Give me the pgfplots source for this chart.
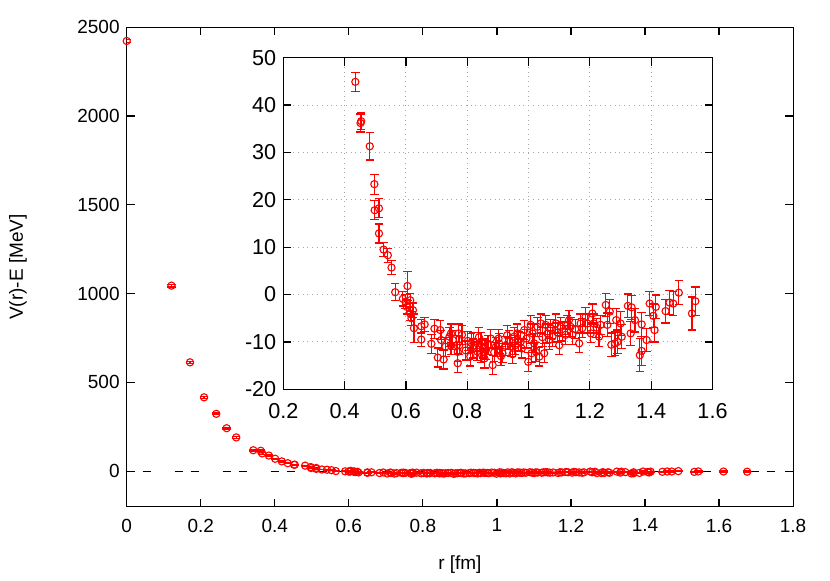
\documentclass[border=0pt]{standalone}
\usepackage{fontspec}
\setmainfont{Liberation Sans}
\usepackage{pgfplots}
\pgfplotsset{compat=1.18}
\usepackage{pgfplotstable}

% r [fm], V(r)-E [MeV], error
\pgfplotstableread{
x y e
0.000 2423 8
0.121 1045 8
0.171 613 6
0.209 416 6
0.242 323 5
0.270 242 5
0.296 190 5
0.342 118 4
0.362 115 4
0.366 100 4
0.384 88 3
0.401 70 3
0.419 55 3
0.435 44.9 2.0
0.452 36.2 1.9
0.454 36.6 1.8
0.482 31.3 2.9
0.497 23.3 2.1
0.498 17.8 2.0
0.512 18.2 2.0
0.512 12.9 2.0
0.527 9.5 1.5
0.541 8.3 1.5
0.553 5.7 1.5
0.565 0.5 1.8
0.590 -0.9 1.5
0.599 -1.5 1.5
0.603 -2.6 1.5
0.605 1.8 3.0
0.614 -1.2 1.5
0.614 -4.0 1.5
0.618 -5.0 1.5
0.623 -3.3 1.5
0.626 -7.1 3.0
0.650 -6.7 1.5
0.650 -9.5 1.5
0.661 -6.3 1.5
0.683 -10.4 2.0
0.693 -7.2 2.0
0.704 -13.3 2.0
0.712 -7.5 2.0
0.715 -9.6 2.0
0.723 -13.7 2.0
0.729 -11.0 2.0
0.742 -8.9 2.0
0.747 -8.2 2.0
0.747 -10.7 2.0
0.753 -9.6 2.0
0.766 -10.7 2.0
0.769 -14.5 2.0
0.769 -12.1 2.0
0.772 -8.2 2.0
0.774 -10.7 2.0
0.783 -8.5 2.0
0.795 -11.8 2.0
0.802 -9.8 2.0
0.810 -13.1 2.0
0.813 -10.2 2.0
0.818 -11.4 2.0
0.820 -10.0 2.0
0.832 -12.0 2.0
0.838 -9.0 2.0
0.845 -10.0 2.0
0.845 -12.4 2.0
0.851 -11.4 2.0
0.856 -13.5 2.0
0.861 -11.7 2.0
0.868 -10.6 2.0
0.877 -9.3 2.0
0.883 -14.9 2.0
0.888 -12.2 2.0
0.894 -11.0 2.0
0.902 -9.3 2.0
0.904 -10.3 2.0
0.910 -13.0 2.0
0.915 -12.4 2.0
0.925 -10.8 2.0
0.930 -8.6 2.0
0.937 -9.6 2.0
0.942 -11.0 2.0
0.948 -12.6 2.0
0.953 -8.9 2.0
0.956 -10.7 2.0
0.963 -8.2 2.0
0.968 -9.8 2.0
0.974 -10.0 2.0
0.978 -11.4 2.0
0.986 -7.5 2.0
0.993 -9.3 2.0
0.999 -14.2 2.0
1.007 -6.4 2.0
1.010 -12.4 2.0
1.013 -8.2 2.0
1.018 -10.3 2.0
1.024 -12.1 2.0
1.029 -6.8 2.0
1.035 -13.1 2.0
1.040 -6.1 2.0
1.045 -9.0 2.0
1.051 -12.4 2.0
1.056 -6.4 2.0
1.062 -8.2 2.0
1.067 -9.6 2.0
1.072 -7.2 2.0
1.078 -8.9 2.0
1.089 -6.1 2.0
1.095 -8.0 2.0
1.100 -10.7 2.0
1.105 -6.8 2.0
1.110 -7.8 2.0
1.121 -8.5 2.0
1.126 -6.5 2.0
1.132 -5.4 2.0
1.137 -6.8 2.0
1.143 -8.5 2.0
1.152 -7.3 2.0
1.165 -10.3 2.0
1.170 -6.1 2.0
1.175 -7.1 2.0
1.186 -4.7 2.0
1.192 -6.1 2.0
1.203 -8.2 2.0
1.208 -4.0 2.0
1.213 -6.1 2.0
1.222 -7.0 2.0
1.230 -8.9 2.0
1.235 -6.4 2.0
1.252 -2.2 2.5
1.257 -6.4 2.5
1.265 -3.6 2.5
1.270 -10.6 2.5
1.282 -10.3 2.5
1.286 -5.4 2.5
1.290 -10.0 2.5
1.300 -6.1 2.5
1.304 -8.9 2.5
1.324 -2.4 2.5
1.333 -8.2 2.5
1.336 -2.7 2.5
1.347 -5.4 2.5
1.363 -12.8 3.5
1.369 -11.9 3.0
1.369 -6.3 2.5
1.385 -9.6 2.5
1.395 -1.9 2.5
1.407 -4.5 2.5
1.411 -7.5 2.5
1.415 -2.6 2.5
1.447 -3.5 2.5
1.460 -1.7 2.5
1.472 -1.9 2.5
1.490 0.4 2.5
1.533 -4.0 3.5
1.544 -1.4 3.0
1.612 -2 3
1.676 -3 4
}\potdata

\pgfplotsset{
  every axis/.append style={
    scale only axis,
    tick align=inside,
    major tick length=4pt,
    axis line style={black, line width=0.6pt},
    every tick/.style={black, line width=0.6pt},
    tick label style={font=\fontsize{9.5}{11}\selectfont},
    label style={font=\fontsize{9.5}{11}\selectfont},
    xticklabel style={yshift=-2.5pt},
    /pgf/number format/assume math mode=true,
    /pgf/number format/1000 sep={},
    /pgf/number format/fixed,
    scaled ticks=false,
  },
  circ/.style={draw=red, line width=0.55pt, only marks, mark=o, mark size=1.8pt,
    mark options={draw=red, fill=none}},
  ebar/.style={draw=red, line width=0.6pt, forget plot},
}

\begin{document}
\begin{tikzpicture}
\path (0,0) rectangle (415pt,290.5pt);

\begin{axis}[
    at={(63.35pt,37.15pt)}, anchor=south west,
    width=333.2pt, height=239.7pt,
    xmin=0, xmax=1.8, ymin=-200, ymax=2500,
    xtick={0,0.2,...,1.8},
    ytick={0,500,...,2500},
    xlabel={r [fm]}, ylabel={V(r)-E [MeV]},
    xlabel style={at={(axis description cs:0.5,-0.1216)}, anchor=center},
    ylabel style={at={(axis description cs:-0.163,0.5)}, anchor=center},
  ]
  \addplot[black, line width=0.5pt, dash pattern=on 4pt off 4pt on 4pt off 12pt, forget plot]
    coordinates {(0,0) (1.8,0)};
  % error bars: vertical segments and caps (cap half width 2.1pt = 0.0113 in r)
  \addplot[ebar, quiver={u=0, v=2*\thisrow{e}}]
    table[x=x, y expr=\thisrow{y}-\thisrow{e}] {\potdata};
  \addplot[ebar, quiver={u=0.0226, v=0}]
    table[x expr=\thisrow{x}-0.0113, y expr=\thisrow{y}+\thisrow{e}] {\potdata};
  \addplot[ebar, quiver={u=0.0226, v=0}]
    table[x expr=\thisrow{x}-0.0113, y expr=\thisrow{y}-\thisrow{e}] {\potdata};
  \addplot[circ] table[x=x, y=y] {\potdata};
\end{axis}

\begin{axis}[
    at={(141.65pt,95.85pt)}, anchor=south west,
    width=214.6pt, height=165.8pt,
    axis background/.style={fill=white},
    tick label style={font=\fontsize{10.8}{12}\selectfont},
    xticklabel style={yshift=-1pt},
    xmin=0.2, xmax=1.6, ymin=-20, ymax=50,
    xtick={0.2,0.4,...,1.6},
    ytick={-20,-10,...,50},
    grid=major,
    major grid style={gray!70, dotted, line width=0.5pt},
  ]
  % cap half width 2.1pt = 0.01366 in r
  \addplot[ebar, quiver={u=0, v=2*\thisrow{e}}, restrict x to domain=0.42:1.58]
    table[x=x, y expr=\thisrow{y}-\thisrow{e}] {\potdata};
  \addplot[ebar, quiver={u=0.0273, v=0}, restrict x to domain=0.40:1.58]
    table[x expr=\thisrow{x}-0.01366, y expr=\thisrow{y}+\thisrow{e}] {\potdata};
  \addplot[ebar, quiver={u=0.0273, v=0}, restrict x to domain=0.40:1.58]
    table[x expr=\thisrow{x}-0.01366, y expr=\thisrow{y}-\thisrow{e}] {\potdata};
  \addplot[circ, restrict x to domain=0.42:1.58] table[x=x, y=y] {\potdata};
\end{axis}
\end{tikzpicture}
\end{document}
